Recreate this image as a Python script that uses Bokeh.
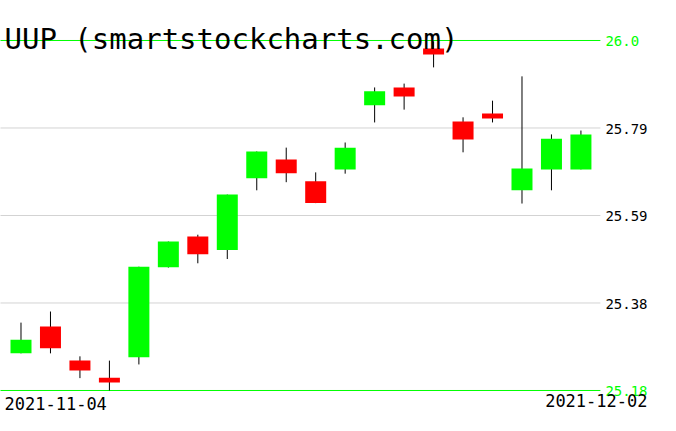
from bokeh.plotting import figure
from bokeh.models import Range1d, ColumnDataSource
from bokeh.core.properties import value
from bokeh.embed import file_html
from bokeh.resources import INLINE

dates = ["2021-11-04", "2021-11-05", "2021-11-08", "2021-11-09", "2021-11-10",
         "2021-11-11", "2021-11-12", "2021-11-15", "2021-11-16", "2021-11-17",
         "2021-11-18", "2021-11-19", "2021-11-22", "2021-11-23", "2021-11-24",
         "2021-11-26", "2021-11-29", "2021-11-30", "2021-12-01", "2021-12-02"]
opens = [25.267, 25.330, 25.250, 25.210, 25.258, 25.469, 25.541, 25.509, 25.677, 25.721,
         25.670, 25.698, 25.848, 25.890, 25.981, 25.810, 25.829, 25.649, 25.698, 25.698]
highs = [25.339, 25.365, 25.260, 25.250, 25.470, 25.529, 25.545, 25.639, 25.740, 25.749,
         25.691, 25.761, 25.890, 25.899, 25.998, 25.820, 25.859, 25.916, 25.780, 25.789]
lows = [25.267, 25.267, 25.209, 25.180, 25.241, 25.468, 25.478, 25.488, 25.649, 25.668,
        25.619, 25.688, 25.808, 25.838, 25.937, 25.738, 25.808, 25.618, 25.649, 25.698]
closes = [25.299, 25.279, 25.227, 25.199, 25.470, 25.529, 25.499, 25.639, 25.740, 25.689,
          25.619, 25.749, 25.881, 25.869, 25.967, 25.768, 25.817, 25.700, 25.770, 25.780]

level_values = [26.0, 25.795, 25.59, 25.385, 25.18]
level_labels = ["26.0", "25.79", "25.59", "25.38", "25.18"]
level_colors = ["#00ff00", "#d3d3d3", "#d3d3d3", "#d3d3d3", "#00ff00"]
label_colors = ["#00ff00", "black", "black", "black", "#00ff00"]
title_text = "UUP (smartstockcharts.com)"

W, H = 660, 415
X0, X1 = -0.6956, 21.70
Y0, Y1 = 25.1214, 26.0937


def sx(px):
    return X0 + px / W * (X1 - X0)


def sy(py):
    return Y1 - py / H * (Y1 - Y0)


n = len(dates)
xs = list(range(n))
up = [c >= o for o, c in zip(opens, closes)]
src = ColumnDataSource(dict(
    x=xs,
    top=[max(o, c) for o, c in zip(opens, closes)],
    bottom=[min(o, c) for o, c in zip(opens, closes)],
    high=highs, low=lows,
    color=["#00ff00" if u else "#ff0000" for u in up],
))

p = figure(width=W, height=H, output_backend="svg", toolbar_location=None,
           x_range=Range1d(X0, X1), y_range=Range1d(Y0, Y1),
           min_border=0, x_axis_type=None, y_axis_type=None)
p.grid.visible = False
p.outline_line_color = None
p.background_fill_color = "white"
p.border_fill_color = "white"

# horizontal level lines
line_end = n - 0.34
p.segment(x0=[-1.0] * len(level_values), x1=[line_end] * len(level_values),
          y0=level_values, y1=level_values, line_color=level_colors, line_width=1)

# wicks then bodies
p.segment(x0="x", x1="x", y0="low", y1="high", source=src, line_color="black", line_width=1)
p.vbar(x="x", width=0.7126, top="top", bottom="bottom", source=src,
       fill_color="color", line_color=None)

mono = value("DejaVu Sans Mono")

# level labels
p.text(x=[n - 0.17] * len(level_values), y=level_values, text=level_labels,
       text_color=label_colors, text_font=mono,
       text_font_size="14px", text_baseline="alphabetic", text_align="left", y_offset=1)

# title
p.text(x=[sx(4)], y=[sy(38)], text=[title_text], text_font=mono, text_font_size="29px",
       text_color="black", text_baseline="alphabetic", text_align="left")

# date labels
p.text(x=[sx(4)], y=[sy(403)], text=[dates[0]], text_font=mono, text_font_size="17px",
       text_color="black", text_baseline="alphabetic", text_align="left")
p.text(x=[sx(647)], y=[sy(400)], text=[dates[-1]], text_font=mono, text_font_size="17px",
       text_color="black", text_baseline="alphabetic", text_align="right")

open("out.html", "w").write(file_html(p, INLINE))
